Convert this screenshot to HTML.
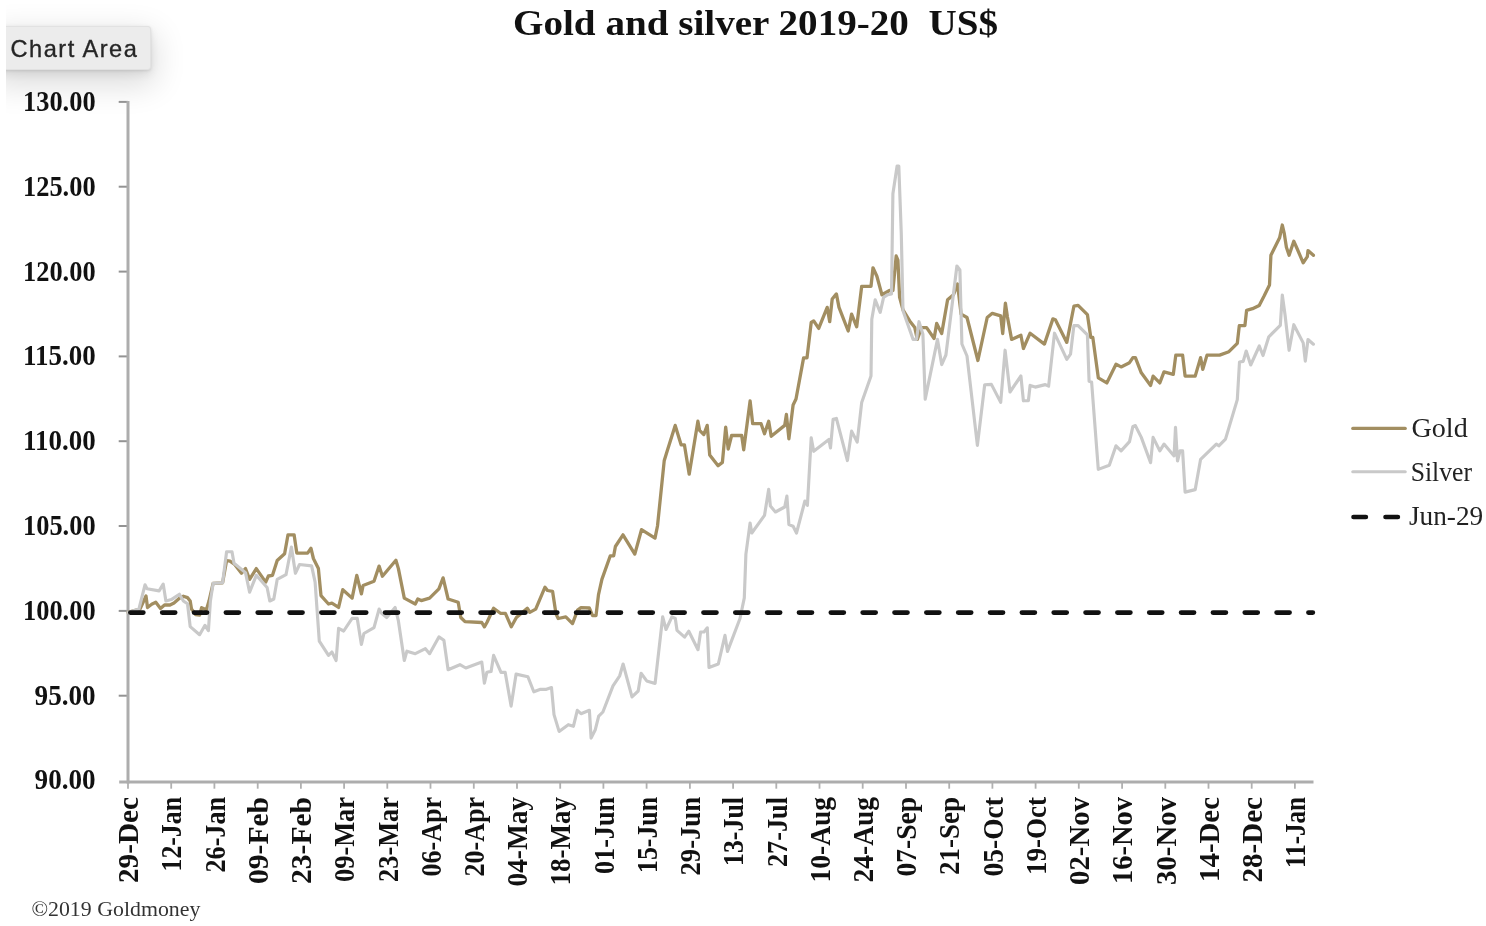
<!DOCTYPE html>
<html><head><meta charset="utf-8"><title>Gold and silver 2019-20 US$</title>
<style>
html,body{margin:0;padding:0;background:#fff;}
body{width:1486px;height:926px;overflow:hidden;position:relative;font-family:"Liberation Serif",serif;}
#clip{position:absolute;left:6px;top:0;width:300px;height:220px;overflow:hidden;}
#tip{position:absolute;left:-12px;top:26.4px;width:157px;height:43.2px;background:#ececec;border:1px solid #e2e2e2;border-radius:3px;box-sizing:border-box;
box-shadow:0 11px 32px 4px rgba(0,0,0,0.14),0 4px 10px rgba(0,0,0,0.07),0 1px 3px rgba(0,0,0,0.10);}
#tiptext{position:absolute;left:10.5px;top:34.3px;font-family:"Liberation Sans",sans-serif;font-size:23.6px;line-height:30px;color:#262626;letter-spacing:1.5px;-webkit-text-stroke:0.35px #262626;white-space:nowrap;filter:blur(0.4px);}
svg{position:absolute;left:0;top:0;filter:blur(0.55px);}
svg text{font-family:"Liberation Serif",serif;}
</style></head><body>
<div id="clip"><div id="tip"></div></div>
<div id="tiptext">Chart Area</div>
<svg width="1486" height="926" viewBox="0 0 1486 926">
<text id="title" x="513" y="35" textLength="485" lengthAdjust="spacingAndGlyphs" font-size="36.3" font-weight="bold" fill="#111" xml:space="preserve">Gold and silver 2019-20  US$</text>
<g stroke="#939393" stroke-width="2" fill="none">
<path d="M118.7,101.9 H128.0"/>
<path d="M118.7,186.7 H128.0"/>
<path d="M118.7,271.6 H128.0"/>
<path d="M118.7,356.4 H128.0"/>
<path d="M118.7,441.2 H128.0"/>
<path d="M118.7,526.0 H128.0"/>
<path d="M118.7,610.9 H128.0"/>
<path d="M118.7,695.7 H128.0"/>
</g>
<g stroke="#b0b0b0" stroke-width="1.8" fill="none">
<path d="M128.0,781.9 V788.6999999999999"/>
<path d="M171.2,781.9 V788.6999999999999"/>
<path d="M214.4,781.9 V788.6999999999999"/>
<path d="M257.7,781.9 V788.6999999999999"/>
<path d="M300.9,781.9 V788.6999999999999"/>
<path d="M344.1,781.9 V788.6999999999999"/>
<path d="M387.3,781.9 V788.6999999999999"/>
<path d="M430.5,781.9 V788.6999999999999"/>
<path d="M473.8,781.9 V788.6999999999999"/>
<path d="M517.0,781.9 V788.6999999999999"/>
<path d="M560.2,781.9 V788.6999999999999"/>
<path d="M603.4,781.9 V788.6999999999999"/>
<path d="M646.6,781.9 V788.6999999999999"/>
<path d="M689.9,781.9 V788.6999999999999"/>
<path d="M733.1,781.9 V788.6999999999999"/>
<path d="M776.3,781.9 V788.6999999999999"/>
<path d="M819.5,781.9 V788.6999999999999"/>
<path d="M862.7,781.9 V788.6999999999999"/>
<path d="M906.0,781.9 V788.6999999999999"/>
<path d="M949.2,781.9 V788.6999999999999"/>
<path d="M992.4,781.9 V788.6999999999999"/>
<path d="M1035.6,781.9 V788.6999999999999"/>
<path d="M1078.8,781.9 V788.6999999999999"/>
<path d="M1122.1,781.9 V788.6999999999999"/>
<path d="M1165.3,781.9 V788.6999999999999"/>
<path d="M1208.5,781.9 V788.6999999999999"/>
<path d="M1251.7,781.9 V788.6999999999999"/>
<path d="M1294.9,781.9 V788.6999999999999"/>
</g>
<g stroke="#adadad" stroke-width="3" fill="none">
<path d="M128.0,100.9 V783.4"/>
<path d="M119.2,781.9 H1313.5"/>
</g>
<text class="yl" x="23.0" y="110.8" textLength="72.6" lengthAdjust="spacingAndGlyphs" font-size="28.7" font-weight="bold" fill="#111">130.00</text>
<text class="yl" x="23.0" y="195.6" textLength="72.6" lengthAdjust="spacingAndGlyphs" font-size="28.7" font-weight="bold" fill="#111">125.00</text>
<text class="yl" x="23.0" y="280.5" textLength="72.6" lengthAdjust="spacingAndGlyphs" font-size="28.7" font-weight="bold" fill="#111">120.00</text>
<text class="yl" x="23.0" y="365.3" textLength="72.6" lengthAdjust="spacingAndGlyphs" font-size="28.7" font-weight="bold" fill="#111">115.00</text>
<text class="yl" x="23.0" y="450.1" textLength="72.6" lengthAdjust="spacingAndGlyphs" font-size="28.7" font-weight="bold" fill="#111">110.00</text>
<text class="yl" x="23.0" y="534.9" textLength="72.6" lengthAdjust="spacingAndGlyphs" font-size="28.7" font-weight="bold" fill="#111">105.00</text>
<text class="yl" x="23.0" y="619.8" textLength="72.6" lengthAdjust="spacingAndGlyphs" font-size="28.7" font-weight="bold" fill="#111">100.00</text>
<text class="yl" x="34.6" y="704.6" textLength="61.0" lengthAdjust="spacingAndGlyphs" font-size="28.7" font-weight="bold" fill="#111">95.00</text>
<text class="yl" x="34.6" y="789.4" textLength="61.0" lengthAdjust="spacingAndGlyphs" font-size="28.7" font-weight="bold" fill="#111">90.00</text>
<text class="xl" transform="translate(138.2,883.0) rotate(-90)" textLength="86" lengthAdjust="spacingAndGlyphs" font-size="30" font-weight="bold" fill="#111">29-Dec</text>
<text class="xl" transform="translate(181.4,871.5) rotate(-90)" textLength="74.5" lengthAdjust="spacingAndGlyphs" font-size="30" font-weight="bold" fill="#111">12-Jan</text>
<text class="xl" transform="translate(224.6,872.5) rotate(-90)" textLength="75.5" lengthAdjust="spacingAndGlyphs" font-size="30" font-weight="bold" fill="#111">26-Jan</text>
<text class="xl" transform="translate(267.9,884.0) rotate(-90)" textLength="87" lengthAdjust="spacingAndGlyphs" font-size="30" font-weight="bold" fill="#111">09-Feb</text>
<text class="xl" transform="translate(311.1,884.0) rotate(-90)" textLength="87" lengthAdjust="spacingAndGlyphs" font-size="30" font-weight="bold" fill="#111">23-Feb</text>
<text class="xl" transform="translate(354.3,882.0) rotate(-90)" textLength="85" lengthAdjust="spacingAndGlyphs" font-size="30" font-weight="bold" fill="#111">09-Mar</text>
<text class="xl" transform="translate(397.5,882.0) rotate(-90)" textLength="85" lengthAdjust="spacingAndGlyphs" font-size="30" font-weight="bold" fill="#111">23-Mar</text>
<text class="xl" transform="translate(440.7,876.5) rotate(-90)" textLength="79.5" lengthAdjust="spacingAndGlyphs" font-size="30" font-weight="bold" fill="#111">06-Apr</text>
<text class="xl" transform="translate(484.0,876.5) rotate(-90)" textLength="79.5" lengthAdjust="spacingAndGlyphs" font-size="30" font-weight="bold" fill="#111">20-Apr</text>
<text class="xl" transform="translate(527.2,886.5) rotate(-90)" textLength="89.5" lengthAdjust="spacingAndGlyphs" font-size="30" font-weight="bold" fill="#111">04-May</text>
<text class="xl" transform="translate(570.4,885.5) rotate(-90)" textLength="88.5" lengthAdjust="spacingAndGlyphs" font-size="30" font-weight="bold" fill="#111">18-May</text>
<text class="xl" transform="translate(613.6,874.0) rotate(-90)" textLength="77" lengthAdjust="spacingAndGlyphs" font-size="30" font-weight="bold" fill="#111">01-Jun</text>
<text class="xl" transform="translate(656.8,873.0) rotate(-90)" textLength="76" lengthAdjust="spacingAndGlyphs" font-size="30" font-weight="bold" fill="#111">15-Jun</text>
<text class="xl" transform="translate(700.1,875.5) rotate(-90)" textLength="78.5" lengthAdjust="spacingAndGlyphs" font-size="30" font-weight="bold" fill="#111">29-Jun</text>
<text class="xl" transform="translate(743.3,866.0) rotate(-90)" textLength="69" lengthAdjust="spacingAndGlyphs" font-size="30" font-weight="bold" fill="#111">13-Jul</text>
<text class="xl" transform="translate(786.5,867.0) rotate(-90)" textLength="70" lengthAdjust="spacingAndGlyphs" font-size="30" font-weight="bold" fill="#111">27-Jul</text>
<text class="xl" transform="translate(829.7,882.5) rotate(-90)" textLength="85.5" lengthAdjust="spacingAndGlyphs" font-size="30" font-weight="bold" fill="#111">10-Aug</text>
<text class="xl" transform="translate(872.9,882.5) rotate(-90)" textLength="85.5" lengthAdjust="spacingAndGlyphs" font-size="30" font-weight="bold" fill="#111">24-Aug</text>
<text class="xl" transform="translate(916.2,876.5) rotate(-90)" textLength="79.5" lengthAdjust="spacingAndGlyphs" font-size="30" font-weight="bold" fill="#111">07-Sep</text>
<text class="xl" transform="translate(959.4,875.0) rotate(-90)" textLength="78" lengthAdjust="spacingAndGlyphs" font-size="30" font-weight="bold" fill="#111">21-Sep</text>
<text class="xl" transform="translate(1002.6,876.5) rotate(-90)" textLength="79.5" lengthAdjust="spacingAndGlyphs" font-size="30" font-weight="bold" fill="#111">05-Oct</text>
<text class="xl" transform="translate(1045.8,875.0) rotate(-90)" textLength="78" lengthAdjust="spacingAndGlyphs" font-size="30" font-weight="bold" fill="#111">19-Oct</text>
<text class="xl" transform="translate(1089.0,885.0) rotate(-90)" textLength="88" lengthAdjust="spacingAndGlyphs" font-size="30" font-weight="bold" fill="#111">02-Nov</text>
<text class="xl" transform="translate(1132.3,884.0) rotate(-90)" textLength="87" lengthAdjust="spacingAndGlyphs" font-size="30" font-weight="bold" fill="#111">16-Nov</text>
<text class="xl" transform="translate(1175.5,885.0) rotate(-90)" textLength="88" lengthAdjust="spacingAndGlyphs" font-size="30" font-weight="bold" fill="#111">30-Nov</text>
<text class="xl" transform="translate(1218.7,882.0) rotate(-90)" textLength="85" lengthAdjust="spacingAndGlyphs" font-size="30" font-weight="bold" fill="#111">14-Dec</text>
<text class="xl" transform="translate(1261.9,882.5) rotate(-90)" textLength="85.5" lengthAdjust="spacingAndGlyphs" font-size="30" font-weight="bold" fill="#111">28-Dec</text>
<text class="xl" transform="translate(1305.1,868.0) rotate(-90)" textLength="71" lengthAdjust="spacingAndGlyphs" font-size="30" font-weight="bold" fill="#111">11-Jan</text>
<polyline points="128,612.4 140,609 146,596 147.5,607.5 151.7,604.3 155.8,602.3 160.5,608.4 164.5,605 170,605 174,603 179.4,598.3 183.4,596.2 187.5,597.6 190.2,601 191.5,609 195.6,614.5 199.6,615.1 201.6,607.7 206.4,609.7 209,601 213.1,583.4 222.6,582.8 226.6,560.5 230,561.2 234.7,564.5 241.5,573.3 245.5,568.6 249.6,579.4 256.3,568.6 265.7,582.1 268.4,576 272.5,575.3 277.2,560.5 284.6,553.7 288,534.8 294.1,534.8 296.8,553.1 307.6,553.1 311,548.3 313.4,558.5 318.4,568.6 321,595.6 328.5,604 331.9,603.2 338.6,607.4 342.8,589.7 352.1,598.1 356.8,575.4 361.4,593.9 363.1,585.5 374,581.3 379.1,566.1 382.4,576.2 395.9,560.2 398.4,568.6 404.3,598.1 415.3,604 417.8,599 421.2,600.6 429.6,598.1 438.9,588.9 443.1,577.9 448.1,599 458.2,602.3 460.8,617.5 465,621.7 481.8,622.5 484.4,626.8 486.9,622.5 493.6,608.2 500.4,613.3 505.4,613.3 511.3,626.8 516.4,617.5 527.3,608.2 529.8,612.4 535.7,609.1 545,587.2 547.5,590.5 552.6,591.4 556,614.1 558.2,618.5 565.8,616.8 572.5,623.6 577.6,610.1 581,607.6 589.3,608 592.6,615.6 596,615.6 598.5,594.6 601.9,579.4 610.3,555.8 613.7,555.8 615.4,546.5 623,534.8 634.8,554.1 641.5,529.7 655,538.1 657.5,526 664.2,460.8 666.8,452.3 675.2,425.4 681.1,444.8 684.4,444.8 689.2,474.2 697.9,421.2 699.6,430.4 703.8,434.6 707.2,425.4 709.7,454.9 718.1,465.8 722.4,462.4 725.7,427.1 728.2,449 731.6,435.5 741.7,435.5 743.7,449.8 750.1,401 752.7,423.7 761.1,423.7 764.5,433.8 768.7,421.2 771.2,436.3 784.7,425.4 786.4,414.4 788.9,438.9 793.1,405 796,399 803.6,357.9 807,357.9 811.2,322.5 813.7,320.9 818.7,328.4 827.2,307.4 829.7,321.7 832.2,299 836.4,293.9 839,307.4 848.2,331 851.6,314.1 856.7,326.8 861.7,286.3 871,286.3 873,267.8 876.9,276.2 881.9,294.8 889.5,290.5 892.9,290.5 896.2,256 897.9,260.2 899.6,297.3 903,309.9 909.7,320.9 914.8,327.6 917.3,339.4 921.5,327.6 926.6,327.6 934.1,338.5 936.7,323.4 941.7,333.5 947.6,299.8 953.5,294.7 957.5,284 961.1,314.1 967,317.5 977.9,360.5 987.2,317.5 992.3,313.3 1000.7,315.8 1002.7,333.5 1005.4,303.2 1007.4,316.7 1011.6,339.4 1020.9,335.2 1023.4,348.5 1030.1,333.2 1044.4,344.1 1052.9,318.9 1055.4,319.7 1066.8,342.4 1073.9,306.2 1078.1,305.4 1087.4,314.6 1090.8,337.4 1092.8,337.4 1098.3,377.8 1106.8,382.9 1116,364.3 1121.1,366.9 1129.5,362.7 1132.9,357.6 1135.4,357.6 1141.3,372.8 1150.6,385.4 1153.1,376.1 1159.8,382.9 1164,371.9 1173.3,374.4 1175.8,355.1 1182.6,355.1 1185.1,376.1 1195.2,376.1 1200.6,357.6 1202.8,369.4 1207,355.1 1219.6,355.1 1228.9,351.7 1237.3,343.3 1239.3,325.6 1244.9,325.6 1246.6,310.4 1252.5,308.7 1259.2,305.4 1264.1,296 1269.5,285 1270.9,255.3 1279.6,237.8 1282.3,225 1284.3,233.7 1286.4,247.2 1289.1,255.3 1293.8,241.2 1296.5,247.2 1303.2,262.8 1307.3,256.7 1308,250.6 1313.4,255.3" fill="none" stroke="#a28e61" stroke-width="3.3" stroke-linejoin="round" stroke-linecap="round"/>
<polyline points="128,612.4 138.9,609.1 145,584.8 147,588.8 159.1,590.9 163.2,584.1 165.9,601 171.3,599.6 179.4,594.2 183.4,601 187.5,603.7 190.2,626.6 199.6,634.7 205,625.3 208.4,630.7 210.4,601 213.1,583.4 222.6,582.8 226.6,551.7 232,551.7 234,563.2 245.5,572.6 249.6,592.2 256.3,575.3 267.1,587.5 269.8,601 273.8,599 277.2,579.4 286,574.7 291.4,547 295.4,573.3 299.5,564.5 311.6,565.9 315.1,582.1 319.3,641.1 328.5,655.4 331.9,652 336.1,660.5 338.6,628.4 343.7,631 352.1,618.3 357.2,618.3 361.4,644.4 363.9,633.5 374,627.6 379.1,609.1 381.6,613.3 386.7,617.5 395.1,607.4 398.4,620.9 404.3,660.5 406.9,651.2 415.3,653.7 425.4,648.7 429.6,653.7 438.9,636.9 443.9,640.2 448.1,669.7 459.9,664.7 465.8,668 481.8,662.1 484.4,683.2 486.9,672.2 491.1,671.4 493.6,655.4 501,672.4 505.2,672.4 511.1,706.1 516.1,674.1 527.9,676.7 533.8,691.8 540.5,689.3 546.4,689.3 551.5,687.6 554,714.6 559.1,731.4 568.3,724.7 573.4,726.3 577.3,710.3 581,713.7 589.4,710.3 591.1,738.1 595.3,729.7 598.7,716.2 602.9,712 613,685.9 619.7,675.8 623.1,664 632,696.9 638.2,691 641.1,673.3 646.7,680.9 655.1,683.4 662.7,616.8 666,629.5 671.9,616.8 675.3,618.5 677,630.3 684.6,637.1 688.8,631.2 698,649.7 700.6,632 704,632 707.3,627.8 709,667.4 718.3,664 725,635.4 727.5,651.4 740,618.5 744.3,597.9 745.9,554.1 750.1,523 751.8,533 764.5,515.4 768.7,489.3 770.4,506.1 775.4,512 784.7,507 786.9,496 788.9,524.6 793.1,526.3 796.5,533 804.9,501 807.4,505.3 808.5,486 811.2,437.8 813.7,451.3 828.9,439.5 830.5,447.9 833.1,419.3 836.4,418.4 847.4,460.6 851.6,431.1 857.2,442 861.7,402.4 871,376 871.8,319.2 875.2,299.8 880.2,312.4 883.6,297.3 887.8,294.7 891.5,293.9 892.9,193.8 897.1,166 898.8,166 901.3,234.2 903,310.8 913.1,339.4 916.5,339.4 919,321.7 922.9,334.3 925.2,399.1 937.5,339.4 941.7,364.6 945.9,355 956.9,266 959.9,270 961.9,344 967,356 977.4,445.4 984.7,384.8 991.4,384.4 1000.7,402.4 1005.1,350.2 1010,392 1020.9,376 1023.4,400.8 1028.4,400.6 1030.1,385.4 1035.2,387.1 1045.3,384.6 1048.6,386.2 1054.5,333.2 1066.8,359.3 1070.5,354.2 1073.9,325.6 1078.1,325.6 1087.4,334.9 1089.1,381.2 1091.6,382 1098.3,469.4 1109.3,465.2 1116,445.8 1121.1,450.9 1129.5,441.6 1132.9,426.4 1135.4,425.6 1141.3,437.4 1150.6,462.7 1153.1,437.4 1159.8,450.9 1164,444.1 1174.1,455.9 1175.5,427.3 1177.5,461 1180,450.9 1182.6,450.9 1185.1,492.1 1195.2,489.6 1200.6,459.3 1216.3,444.1 1218.8,445.8 1225.5,439.1 1237.3,399.6 1239.5,362 1243.2,361.4 1246.2,351 1250.7,365 1259.3,346 1263,355.5 1268.8,336.8 1280.3,325.3 1282.3,295 1285,314.5 1289.1,350.3 1293.8,324.7 1303.2,342.9 1305.3,361.1 1308,339.5 1313.4,344.2" fill="none" stroke="#c9c9c9" stroke-width="3.15" stroke-linejoin="round" stroke-linecap="round"/>
<path d="M130.4,612.6 H1312.8" fill="none" stroke="#111" stroke-width="4.8" stroke-linecap="round" stroke-dasharray="12.9 18.94"/>
<path d="M1352.8,428.4 H1405.2" stroke="#a28e61" stroke-width="3.3" stroke-linecap="round"/>
<path d="M1352.8,471.7 H1405.2" stroke="#c9c9c9" stroke-width="3.15" stroke-linecap="round"/>
<path d="M1353.5,517 H1400" stroke="#111" stroke-width="4.6" stroke-linecap="round" stroke-dasharray="12.4 19.6"/>
<text x="1411.5" y="436.6" textLength="56.2" lengthAdjust="spacingAndGlyphs" font-size="27.5" fill="#222">Gold</text>
<text x="1410.7" y="480.7" textLength="61.3" lengthAdjust="spacingAndGlyphs" font-size="27.5" fill="#222">Silver</text>
<text x="1409" y="524.7" textLength="74.2" lengthAdjust="spacingAndGlyphs" font-size="27.5" fill="#222">Jun-29</text>
<text x="31.4" y="915.6" textLength="169" lengthAdjust="spacingAndGlyphs" font-size="22" fill="#333">©2019 Goldmoney</text>
</svg>
</body></html>
